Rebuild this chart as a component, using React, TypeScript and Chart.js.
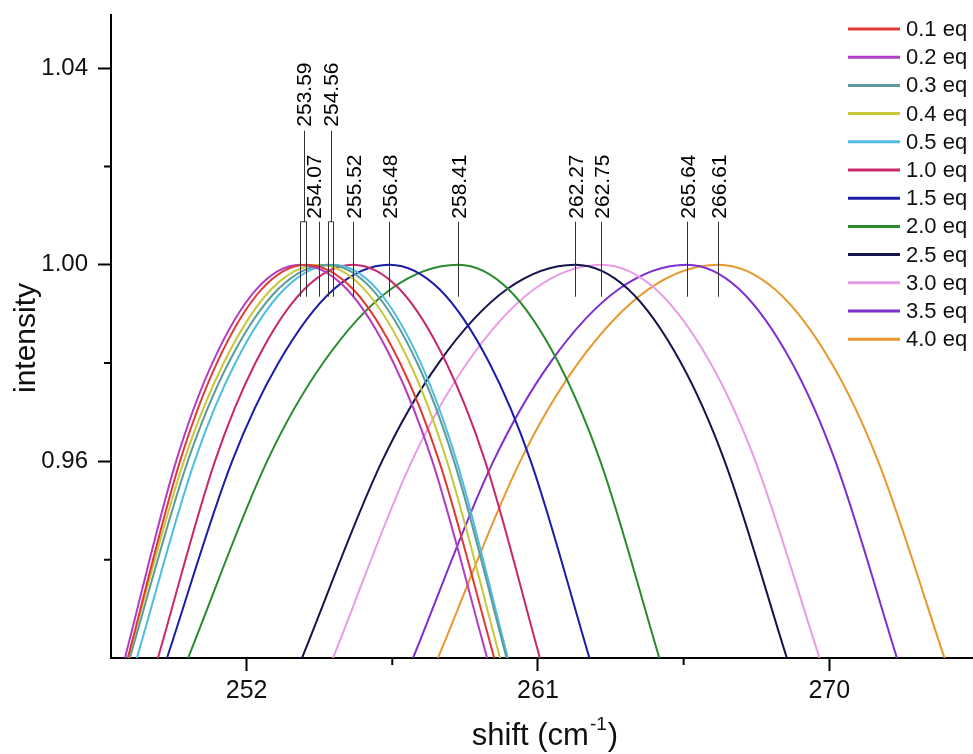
import { useEffect, useRef } from "react";
import { Chart, registerables } from "chart.js";

Chart.register(...registerables);

const FONT = "'Liberation Sans', Arial, Helvetica, sans-serif";

// ---------- data ----------
const seriesLabels = [
  "0.1 eq", "0.2 eq", "0.3 eq", "0.4 eq", "0.5 eq", "1.0 eq",
  "1.5 eq", "2.0 eq", "2.5 eq", "3.0 eq", "3.5 eq", "4.0 eq",
];
const seriesColors = [
  "#e03a36", "#b23cc6", "#5f9a9a", "#c9c63a", "#4dbde2", "#c8286e",
  "#1c1ca8", "#2a8a2e", "#15154e", "#e99ce6", "#7e2fd0", "#e8982e",
];

// intensity levels at which each curve's shift was read (left flank, peak, right flank)
const intensityLevels = [0.92, 0.96, 0.98, 0.995, 1.0, 0.995, 0.98, 0.96, 0.92];

const shift01 = [248.33, 249.94, 251.08, 252.46, 253.83, 255.29, 256.74, 257.95, 259.65];
const shift02 = [248.24, 249.82, 250.94, 252.30, 253.65, 255.10, 256.54, 257.74, 259.43];
const shift03 = [248.39, 250.18, 251.44, 252.97, 254.50, 255.88, 257.27, 258.41, 260.03];
const shift04 = [248.33, 250.06, 251.29, 252.76, 254.24, 255.64, 257.04, 258.19, 259.83];
const shift05 = [248.61, 250.39, 251.65, 253.16, 254.68, 256.03, 257.38, 258.49, 260.07];
const shift10 = [249.26, 251.02, 252.27, 253.78, 255.28, 256.73, 258.17, 259.37, 261.06];
const shift15 = [249.54, 251.55, 252.98, 254.69, 256.41, 257.96, 259.50, 260.78, 262.59];
const shift20 = [250.19, 252.63, 254.36, 256.45, 258.53, 260.09, 261.64, 262.93, 264.75];
const shift25 = [253.71, 256.18, 257.93, 260.04, 262.15, 263.79, 265.42, 266.77, 268.69];
const shift30 = [254.67, 257.10, 258.81, 260.88, 262.95, 264.64, 266.33, 267.72, 269.70];
const shift35 = [257.14, 259.62, 261.37, 263.49, 265.60, 267.22, 268.85, 270.19, 272.09];
const shift40 = [257.91, 260.45, 262.24, 264.41, 266.57, 268.32, 270.07, 271.51, 273.56];
const seriesShifts = [
  shift01, shift02, shift03, shift04, shift05, shift10,
  shift15, shift20, shift25, shift30, shift35, shift40,
];

const xMin = 247.81;
const xMax = 274.44;
const yMin = 0.92;
const yMax = 1.0508;
const xMajorTicks = [252, 261, 270];
const xMinorTicks = [256.5, 265.5];
const yMajorTicks = [0.96, 1.0, 1.04];
const yMinorTicks = [0.94, 0.98, 1.02];

const peakLabels = [
  "253.59", "254.07", "254.56", "255.52", "256.48",
  "258.41", "262.27", "262.75", "265.64", "266.61",
];
const peakLeaderShifts = [
  [253.65, 253.83], [254.24], [254.5, 254.68], [255.28], [256.41],
  [258.53], [262.15], [262.95], [265.6], [266.57],
];
const peakLabelRaised = [true, false, true, false, false, false, false, false, false, false];

// ---------- helpers ----------
const isIn = (v: number, arr: number[]) => arr.some((a) => Math.abs(a - v) < 1e-6);

const minorTickPlugin = {
  id: "minorTicks",
  afterDraw(chart: any) {
    const { ctx, chartArea, scales } = chart;
    ctx.save();
    ctx.strokeStyle = "#000";
    ctx.lineWidth = 2;
    ctx.beginPath();
    xMinorTicks.forEach((v) => {
      const px = scales.x.getPixelForValue(v);
      ctx.moveTo(px, chartArea.bottom);
      ctx.lineTo(px, chartArea.bottom + 7);
    });
    yMinorTicks.forEach((v) => {
      const py = scales.y.getPixelForValue(v);
      ctx.moveTo(chartArea.left, py);
      ctx.lineTo(chartArea.left - 7, py);
    });
    ctx.stroke();
    ctx.restore();
  },
};

const peakPlugin = {
  id: "peakLabels",
  afterDatasetsDraw(chart: any) {
    const { ctx, scales } = chart;
    const x = scales.x;
    const y1 = scales.y.getPixelForValue(1.0);
    ctx.save();
    ctx.strokeStyle = "#333";
    ctx.lineWidth = 1;
    ctx.fillStyle = "#000";
    ctx.font = `21px ${FONT}`;
    peakLabels.forEach((lab, i) => {
      const xs = peakLeaderShifts[i].map((v) => Math.round(x.getPixelForValue(v)) + 0.5);
      const cx = Math.round((xs[0] + xs[xs.length - 1]) / 2) + 0.5;
      const raised = peakLabelRaised[i];
      const textBottom = raised ? y1 - 138 : y1 - 46;
      const top = y1 - 43;
      const bottom = y1 + 32;
      ctx.beginPath();
      if (xs.length === 2) {
        ctx.moveTo(cx, textBottom + 4);
        ctx.lineTo(cx, top);
        ctx.moveTo(xs[0], bottom);
        ctx.lineTo(xs[0], top);
        ctx.lineTo(xs[1], top);
        ctx.lineTo(xs[1], bottom);
      } else {
        ctx.moveTo(xs[0], raised ? textBottom + 4 : top);
        ctx.lineTo(xs[0], bottom);
      }
      ctx.stroke();
      const tx = cx + (i === 1 ? -6 : 0);
      ctx.save();
      ctx.translate(tx, textBottom);
      ctx.rotate(-Math.PI / 2);
      ctx.textAlign = "left";
      ctx.textBaseline = "middle";
      ctx.fillText(lab, 0, 1);
      ctx.restore();
    });
    ctx.restore();
  },
};

const legendPlugin = {
  id: "insideLegend",
  afterDraw(chart: any) {
    const { ctx, chartArea } = chart;
    const right = chartArea.right;
    ctx.save();
    ctx.font = `22px ${FONT}`;
    ctx.textAlign = "left";
    ctx.textBaseline = "middle";
    chart.data.datasets.forEach((ds: any, i: number) => {
      const yy = chartArea.top + 14 + i * 28.2;
      ctx.strokeStyle = ds.borderColor;
      ctx.lineWidth = 3;
      ctx.beginPath();
      ctx.moveTo(right - 125, yy);
      ctx.lineTo(right - 73, yy);
      ctx.stroke();
      ctx.fillStyle = "#111";
      ctx.fillText(ds.label, right - 67, yy + 1);
    });
    ctx.restore();
  },
};

const titlePlugin = {
  id: "axisTitles",
  afterDraw(chart: any) {
    const { ctx } = chart;
    ctx.save();
    ctx.fillStyle = "#111";
    // y title
    ctx.font = `30px ${FONT}`;
    ctx.translate(27, 338);
    ctx.rotate(-Math.PI / 2);
    ctx.textAlign = "center";
    ctx.textBaseline = "middle";
    ctx.fillText("intensity", 0, 0);
    ctx.restore();

    // x title with superscript
    ctx.save();
    ctx.fillStyle = "#111";
    ctx.textBaseline = "alphabetic";
    ctx.textAlign = "left";
    const main = `31px ${FONT}`;
    const sup = `19px ${FONT}`;
    ctx.font = main;
    const w1 = ctx.measureText("shift (cm").width;
    const w3 = ctx.measureText(")").width;
    ctx.font = sup;
    const w2 = ctx.measureText("-1").width;
    const total = w1 + w2 + w3 + 2;
    const cx = 545;
    const base = 745;
    let xx = cx - total / 2;
    ctx.font = main;
    ctx.fillText("shift (cm", xx, base);
    xx += w1 + 1;
    ctx.font = sup;
    ctx.fillText("-1", xx, base - 15);
    xx += w2 + 1;
    ctx.font = main;
    ctx.fillText(")", xx, base);
    ctx.restore();
  },
};

export default function App() {
  const ref = useRef<HTMLCanvasElement | null>(null);

  useEffect(() => {
    if (!ref.current) return;
    const datasets = seriesLabels.map((label, i) => ({
      label,
      data: seriesShifts[i].map((s, j) => ({ x: s, y: intensityLevels[j] })),
      borderColor: seriesColors[i],
      backgroundColor: seriesColors[i],
      borderWidth: 2,
      pointRadius: 0,
      fill: false,
      cubicInterpolationMode: "monotone" as const,
    }));

    const chart = new Chart(ref.current, {
      type: "line",
      data: { datasets },
      options: {
        animation: false,
        responsive: false,
        events: [],
        layout: { padding: { top: 15, right: 0, left: 0, bottom: 0 } },
        plugins: {
          legend: { display: false },
          tooltip: { enabled: false },
          title: { display: false },
        },
        scales: {
          x: {
            type: "linear",
            min: xMin,
            max: xMax,
            afterBuildTicks: (s: any) => {
              s.ticks = [...xMajorTicks, ...xMinorTicks].sort((a, b) => a - b).map((v) => ({ value: v }));
            },
            afterFit: (s: any) => {
              s.height = 96;
              s.paddingLeft = 0;
              s.paddingRight = 0;
            },
            ticks: {
              autoSkip: false,
              maxRotation: 0,
              padding: 5,
              color: "#111",
              font: { family: FONT, size: 25 },
              callback: (v: any) => (isIn(Number(v), xMajorTicks) ? String(v) : ""),
            },
            grid: {
              display: true,
              drawOnChartArea: false,
              drawTicks: true,
              tickLength: 13,
              tickWidth: 2,
              tickColor: (c: any) => (c.tick && isIn(c.tick.value, xMajorTicks) ? "#000" : "rgba(0,0,0,0)"),
            },
            border: { display: true, color: "#000", width: 2 },
          },
          y: {
            type: "linear",
            min: yMin,
            max: yMax,
            afterBuildTicks: (s: any) => {
              s.ticks = [...yMajorTicks, ...yMinorTicks].sort((a, b) => a - b).map((v) => ({ value: v }));
            },
            afterFit: (s: any) => {
              s.width = 111;
              s.paddingTop = 0;
              s.paddingBottom = 0;
            },
            ticks: {
              autoSkip: false,
              padding: 10,
              color: "#111",
              font: { family: FONT, size: 24 },
              callback: (v: any) => (isIn(Number(v), yMajorTicks) ? Number(v).toFixed(2) : ""),
            },
            grid: {
              display: true,
              drawOnChartArea: false,
              drawTicks: true,
              tickLength: 13,
              tickWidth: 2,
              tickColor: (c: any) => (c.tick && isIn(c.tick.value, yMajorTicks) ? "#000" : "rgba(0,0,0,0)"),
            },
            border: { display: true, color: "#000", width: 2 },
          },
        },
      },
      plugins: [minorTickPlugin, peakPlugin, legendPlugin, titlePlugin],
    });
    return () => chart.destroy();
  }, []);

  return (
    <div style={{ position: "absolute", left: 0, top: 0, width: 973, height: 754, background: "#fff" }}>
      <canvas ref={ref} width={973} height={754} style={{ width: 973, height: 754, display: "block" }} />
    </div>
  );
}
